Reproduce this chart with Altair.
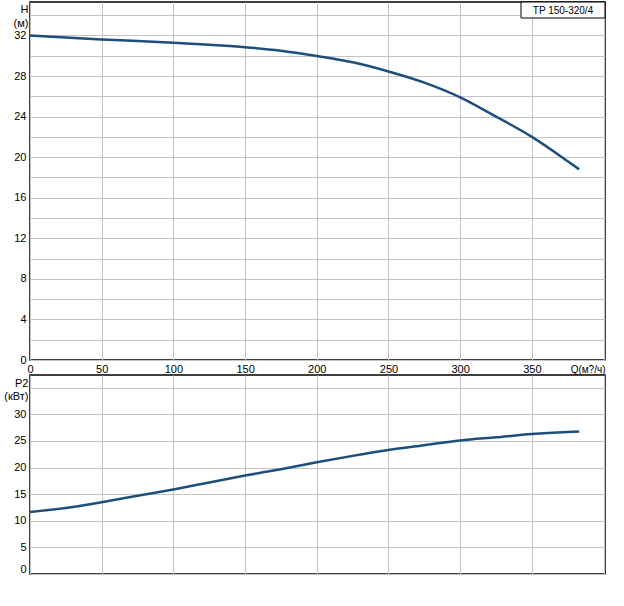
import altair as alt
import pandas as pd

q = [0, 25, 50, 75, 100, 125, 150, 175, 200, 225, 250, 275, 300, 325, 350, 375, 383]
h = [32.0, 31.8, 31.6, 31.45, 31.28, 31.08, 30.85, 30.5, 29.97, 29.35, 28.45, 27.35, 25.9, 24.0, 22.0, 19.6, 18.8]
p2 = [11.66, 12.4, 13.5, 14.7, 15.9, 17.2, 18.5, 19.7, 21.0, 22.2, 23.3, 24.2, 25.1, 25.7, 26.3, 26.7, 26.8]
x_ticks = [0, 50, 100, 150, 200, 250, 300, 350, 400]
h_grid = list(range(0, 36, 2))
p_grid = list(range(0, 40, 5))
legend_label = "TP 150-320/4"

df = pd.DataFrame({"Q": q, "H": h, "P2": p2})

FONT = "Liberation Sans"
LINE = "#1d4f7c"
W = 575
GRID = "#c4c4c4"

xscale = alt.Scale(domain=[0, 401], nice=False, zero=False)

top_line = alt.Chart(df).mark_line(color=LINE, strokeWidth=2.5, interpolate="monotone").encode(
    x=alt.X("Q:Q", scale=xscale,
            axis=alt.Axis(values=x_ticks, title="Q(м?/ч)", titleAngle=0, titleAlign="right",
                          titleX=W, titleY=12, titleBaseline="alphabetic", titleFontWeight="normal",
                          titleFontSize=10,
                          labelExpr="datum.value >= 400 ? '' : datum.label",
                          ticks=False, domain=False, labelPadding=3, labelFontSize=11,
                          gridColor=GRID, labelColor="black", titleColor="black",
                          labelFont=FONT, titleFont=FONT, labelFlush=False)),
    y=alt.Y("H:Q", scale=alt.Scale(domain=[0, 35.3], nice=False),
            axis=alt.Axis(values=h_grid, labelExpr="datum.value % 4 == 0 ? datum.label : ''",
                          title=["H", "(м)"], titleAngle=0, titleAlign="right", titleX=-2,
                          titleY=10, titleBaseline="alphabetic", titleLineHeight=14,
                          titleFontWeight="normal", titleFontSize=11, ticks=False, domain=False,
                          labelPadding=4, labelFontSize=11, gridColor=GRID,
                          labelColor="black", titleColor="black", labelFont=FONT, titleFont=FONT)),
)

legend_df = pd.DataFrame({"label": [legend_label]})
legend_box = alt.Chart(legend_df).mark_rect(fill="white", stroke="black", strokeWidth=1).encode(
    x=alt.value(491), x2=alt.value(W), y=alt.value(0), y2=alt.value(16)
)
legend_text = alt.Chart(legend_df).mark_text(font=FONT, fontSize=10, color="black", align="center",
                                             baseline="middle").encode(
    text="label:N", x=alt.value(533), y=alt.value(9)
)
# invisible extent guide so the page offset is exact
top_guide = alt.Chart(legend_df).mark_rule(opacity=0, strokeWidth=0).encode(
    x=alt.value(-29), x2=alt.value(W + 18), y=alt.value(-1)
)

top = alt.layer(top_line, legend_box, legend_text, top_guide).properties(width=W, height=358)

bottom_line = alt.Chart(df).mark_line(color=LINE, strokeWidth=2.5, interpolate="monotone").encode(
    x=alt.X("Q:Q", scale=xscale,
            axis=alt.Axis(values=x_ticks, labels=False, title=None, ticks=False, domain=False,
                          gridColor=GRID)),
    y=alt.Y("P2:Q", scale=alt.Scale(domain=[0, 37.4], nice=False),
            axis=alt.Axis(values=p_grid, labelExpr="datum.value >= 35 ? '' : datum.label",
                          title=["P2", "(кВт)"], titleAngle=0, titleAlign="right", titleX=-2,
                          titleY=11, titleBaseline="alphabetic", titleLineHeight=13,
                          titleFontWeight="normal", titleFontSize=11, ticks=False, domain=False,
                          labelPadding=4, labelFontSize=11, labelFlush=True, gridColor=GRID,
                          labelColor="black", titleColor="black", labelFont=FONT, titleFont=FONT)),
)
bottom_guide = alt.Chart(legend_df).mark_rule(opacity=0, strokeWidth=0).encode(
    x=alt.value(-29), x2=alt.value(W + 18), y=alt.value(199 + 31)
)
bottom = alt.layer(bottom_line, bottom_guide).properties(width=W, height=199)

chart = alt.vconcat(top, bottom, spacing=15, bounds="flush").properties(
    padding=0,
    background="white",
).configure_view(stroke="black", strokeWidth=1.5).configure_axis(gridWidth=1)

chart.save("out.html", embed_options={"renderer": "svg", "actions": False})
